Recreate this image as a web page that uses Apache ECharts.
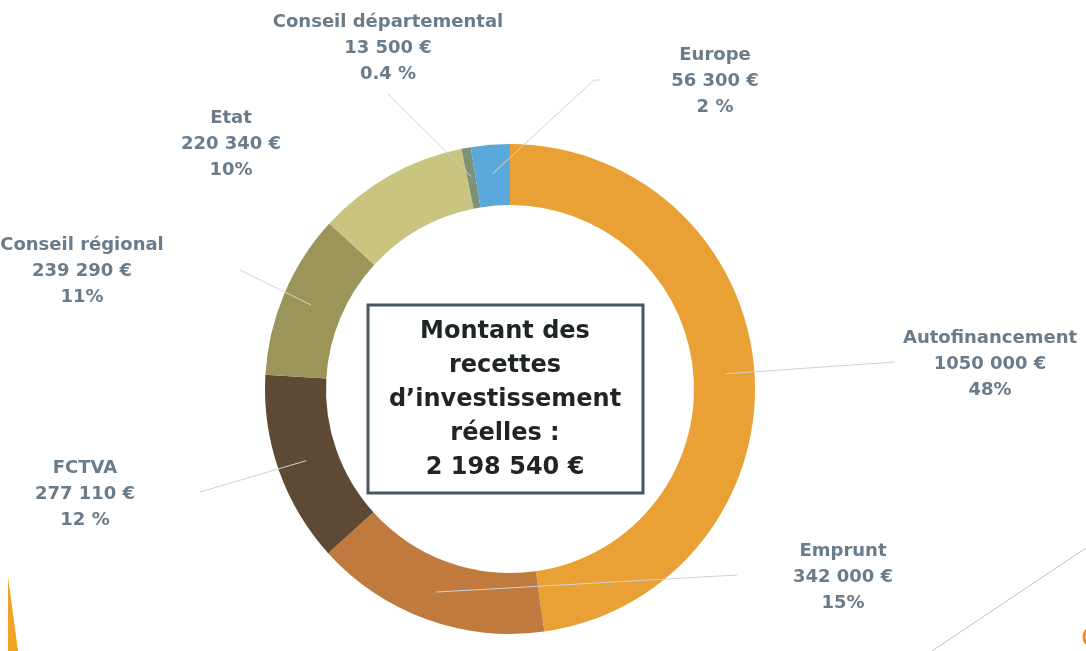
<!DOCTYPE html>
<html>
<head>
<meta charset="utf-8">
<script src="https://cdn.jsdelivr.net/npm/echarts@6/dist/echarts.min.js"></script>
<style>
html, body { margin: 0; padding: 0; background: #fff; }
#chart { width: 1086px; height: 651px; }
</style>
</head>
<body>
<div id="chart"></div>
<script>
// recettes d'investissement réelles, sens horaire depuis le haut
var categories = ['Autofinancement', 'Emprunt', 'FCTVA', 'Conseil régional', 'Etat', 'Conseil départemental', 'Europe'];
var amounts = [1050000, 342000, 277110, 239290, 220340, 13500, 56300];
var amountLabels = ['1050 000 €', '342 000 €', '277 110 €', '239 290 €', '220 340 €', '13 500 €', '56 300 €'];
var pctLabels = ['48%', '15%', '12 %', '11%', '10%', '0.4 %', '2 %'];

var colors = ['#e9a034', '#c07a3e', '#5e4934', '#9c955a', '#c9c47f', '#7d9277', '#5ba8dc'];

// position des étiquettes et fin des traits de rappel (null = pas de trait)
var labelPos = [[990, 364], [843, 577], [85, 494], [82, 271], [231, 144], [388, 48], [715, 81]];
var lineEnd = [[[895, 362]], [[737, 575]], [[200, 492]], [[240, 270]], null, [[388, 94]], [[594, 80], [601, 80]]];

var total = amounts.reduce(function (a, b) { return a + b }, 0);
var totalText = String(total).replace(/\B(?=(\d{3})+(?!\d))/g, ' ') + ' €';

var chart = echarts.init(document.getElementById('chart'));

var ringData = categories.map(function (name, i) {
    return { name: name, value: amounts[i], itemStyle: { color: colors[i] } };
});

// même anneau, transparent, qui porte les étiquettes pour que les traits passent au-dessus
var labelData = categories.map(function (name, i) {
    return { name: name, value: amounts[i], labelLine: { show: lineEnd[i] != null } };
});

var option = {
    animation: false,
    backgroundColor: '#fff',
    graphic: [
        {
            type: 'rect',
            shape: { x: 368, y: 305, width: 275, height: 188 },
            style: { fill: '#fff', stroke: '#48575d', lineWidth: 3 },
            z: 10
        },
        {
            type: 'text',
            z: 11,
            style: {
                x: 505,
                y: 400,
                text: 'Montant des\nrecettes\nd\u2019investissement\nréelles :\n' + totalText,
                fill: '#1f2527',
                font: 'bold 24px "DejaVu Sans"',
                lineHeight: 34,
                align: 'center',
                verticalAlign: 'middle'
            }
        },
        // bouts de la diapo autour du graphique
        {
            type: 'polygon',
            shape: { points: [[8, 577], [18, 651], [8, 651]] },
            style: { fill: '#f0a224' }
        },
        {
            type: 'line',
            shape: { x1: 932, y1: 651, x2: 1086, y2: 548 },
            style: { stroke: '#c2c2c8', lineWidth: 1 }
        },
        {
            type: 'arc',
            shape: { cx: 1093, cy: 637, r: 9, startAngle: Math.PI * 0.6, endAngle: Math.PI * 1.4 },
            style: { stroke: '#f08a1c', lineWidth: 3, fill: 'none' }
        }
    ],
    series: [{
        type: 'pie',
        z: 2,
        center: [510, 389],
        radius: [184, 245],
        startAngle: 90,
        silent: true,
        itemStyle: { borderWidth: 0 },
        label: { show: false },
        labelLine: { show: false },
        data: ringData
    }, {
        type: 'pie',
        z: 6,
        center: [510, 389],
        radius: [184, 245],
        startAngle: 90,
        silent: true,
        avoidLabelOverlap: false,
        itemStyle: { color: 'rgba(0,0,0,0)', borderWidth: 0 },
        label: {
            show: true,
            position: 'outside',
            color: '#6a7c8a',
            fontFamily: 'DejaVu Sans',
            fontWeight: 'bold',
            fontSize: 18,
            lineHeight: 26,
            formatter: function (p) {
                var i = p.dataIndex;
                return categories[i] + '\n' + amountLabels[i] + '\n' + pctLabels[i];
            }
        },
        labelLine: {
            show: true,
            showAbove: true,
            length: 10,
            length2: 5,
            lineStyle: { color: '#d2d2d2', width: 1 }
        },
        labelLayout: function (p) {
            var i = p.dataIndex;
            var res = {
                x: labelPos[i][0],
                y: labelPos[i][1],
                align: 'center',
                verticalAlign: 'middle'
            };
            var pts = p.labelLinePoints;
            if (lineEnd[i] && pts && pts.length > 1) {
                // le trait part du milieu de l'anneau
                var dx = pts[1][0] - pts[0][0], dy = pts[1][1] - pts[0][1];
                var len = Math.sqrt(dx * dx + dy * dy) || 1;
                var start = [pts[0][0] - dx / len * 29, pts[0][1] - dy / len * 29];
                res.labelLinePoints = [start].concat(lineEnd[i]);
            }
            return res;
        },
        data: labelData
    }]
};

chart.setOption(option);
</script>
</body>
</html>
